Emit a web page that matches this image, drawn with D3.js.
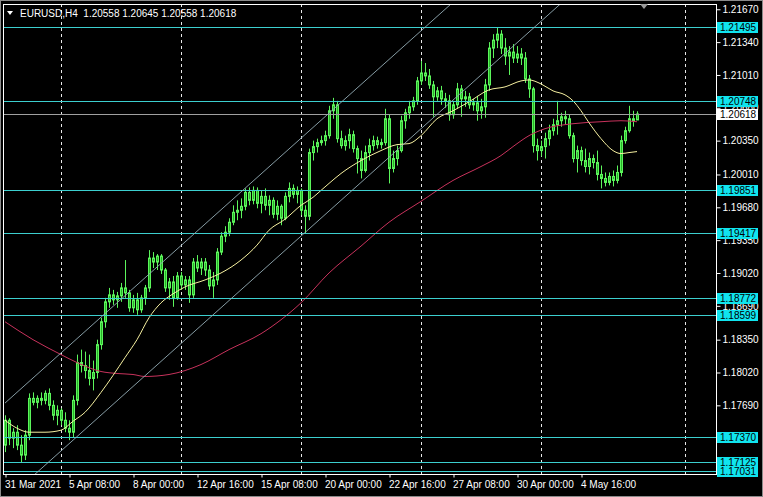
<!DOCTYPE html>
<html><head><meta charset="utf-8">
<script src="https://cdn.jsdelivr.net/npm/d3@7"></script>
<style>html,body{margin:0;padding:0;background:#000;overflow:hidden}</style>
</head><body>
<svg id="c" width="763" height="497"></svg>
<script>
const title = "EURUSD,H4  1.20558 1.20645 1.20558 1.20618";
const dateLabels = ["31 Mar 2021","5 Apr 08:00","8 Apr 00:00","12 Apr 16:00","15 Apr 08:00","20 Apr 00:00","22 Apr 16:00","27 Apr 08:00","30 Apr 00:00","4 May 16:00"];
const dateIdx = [0,16,32,48,64,80,96,112,128,144];
const sepIdx = [14,44,74,104,134,170];
const priceTicks = [1.21670,1.21340,1.21010,1.20680,1.20350,1.20010,1.19680,1.19350,1.19020,1.18690,1.18350,1.18020,1.17690];
const levels = [1.21495,1.20748,1.19851,1.19417,1.18772,1.18599,1.17370,1.17125,1.17031];
const lastPrice = 1.20618;

const open = [1.1729,1.1754,1.1736,1.1742,1.1729,1.1719,1.1739,1.1776,1.1772,1.1776,
1.1774,1.1781,1.1769,1.1759,1.1764,1.1754,1.1746,1.1742,1.1774,1.1812,
1.1809,1.1804,1.1796,1.1802,1.1830,1.1853,1.1873,1.1880,1.1875,1.1879,
1.1887,1.1882,1.1867,1.1875,1.1865,1.1877,1.1887,1.1917,1.1913,1.1919,
1.1905,1.1887,1.1893,1.1877,1.1899,1.1890,1.1895,1.1880,1.1913,1.1907,
1.1913,1.1905,1.1889,1.1895,1.1923,1.1939,1.1943,1.1953,1.1963,1.1965,
1.1969,1.1983,1.1975,1.1985,1.1972,1.1979,1.1970,1.1975,1.1961,1.1969,
1.1957,1.1979,1.1987,1.1981,1.1985,1.1965,1.1959,1.2023,1.2029,1.2033,
1.2035,1.2040,1.2065,1.2071,1.2037,1.2030,1.2035,1.2041,1.2027,1.2017,
1.2005,1.2023,1.2030,1.2035,1.2031,1.2033,1.2057,1.2007,1.2017,1.2025,
1.2055,1.2063,1.2069,1.2075,1.2095,1.2103,1.2100,1.2091,1.2079,1.2085,
1.2077,1.2075,1.2061,1.2071,1.2087,1.2077,1.2079,1.2071,1.2073,1.2065,
1.2069,1.2091,1.2128,1.2136,1.2142,1.2128,1.2120,1.2124,1.2118,1.2122,
1.2118,1.2097,1.2087,1.2030,1.2025,1.2029,1.2037,1.2045,1.2051,1.2055,
1.2059,1.2057,1.2040,1.2017,1.2025,1.2015,1.2009,1.2017,1.2013,1.2001,
1.1997,1.1993,1.1999,1.1995,1.2003,1.2035,1.2045,1.2057,1.20558];
const high = [1.1759,1.1756,1.1746,1.1749,1.1739,1.1744,1.1781,1.1782,1.1779,1.1782,
1.1784,1.1786,1.1774,1.1769,1.1766,1.1762,1.1754,1.1779,1.1820,1.1825,
1.1823,1.1820,1.1814,1.1835,1.1857,1.1877,1.1887,1.1885,1.1883,1.1892,
1.1915,1.1885,1.1880,1.1882,1.1880,1.1890,1.1925,1.1923,1.1921,1.1921,
1.1907,1.1897,1.1899,1.1903,1.1903,1.1899,1.1899,1.1917,1.1920,1.1917,
1.1917,1.1910,1.1903,1.1927,1.1943,1.1949,1.1957,1.1970,1.1975,1.1977,
1.1987,1.1988,1.1989,1.1988,1.1985,1.1987,1.1980,1.1978,1.1975,1.1971,
1.1983,1.1993,1.1991,1.1989,1.1987,1.1970,1.2027,1.2035,1.2037,1.2040,
1.2045,1.2070,1.2078,1.2075,1.2045,1.2040,1.2047,1.2045,1.2030,1.2025,
1.2030,1.2037,1.2040,1.2039,1.2037,1.2067,1.2061,1.2025,1.2030,1.2060,
1.2067,1.2075,1.2079,1.2099,1.2115,1.2113,1.2107,1.2095,1.2089,1.2090,
1.2083,1.2081,1.2075,1.2093,1.2091,1.2085,1.2083,1.2077,1.2080,1.2077,
1.2097,1.2134,1.2142,1.2149,1.2146,1.2138,1.2130,1.2132,1.2130,1.2128,
1.2124,1.2101,1.2089,1.2037,1.2035,1.2043,1.2051,1.2057,1.2075,1.2063,
1.2065,1.2061,1.2043,1.2030,1.2029,1.2027,1.2023,1.2021,1.2025,1.2010,
1.2003,1.2003,1.2005,1.2010,1.2040,1.2049,1.2070,1.2065,1.20645];
const low = [1.1722,1.1729,1.1726,1.1724,1.1712,1.1714,1.1734,1.1769,1.1766,1.1769,
1.1770,1.1764,1.1754,1.1749,1.1749,1.1742,1.1734,1.1737,1.1769,1.1802,
1.1796,1.1789,1.1784,1.1796,1.1825,1.1847,1.1867,1.1870,1.1867,1.1873,
1.1877,1.1863,1.1862,1.1860,1.1862,1.1870,1.1883,1.1907,1.1905,1.1901,
1.1883,1.1875,1.1868,1.1875,1.1885,1.1885,1.1872,1.1877,1.1903,1.1900,
1.1899,1.1885,1.1877,1.1890,1.1920,1.1933,1.1939,1.1950,1.1955,1.1957,
1.1965,1.1970,1.1971,1.1967,1.1962,1.1965,1.1960,1.1957,1.1955,1.1950,
1.1955,1.1973,1.1977,1.1972,1.1960,1.1942,1.1955,1.2015,1.2023,1.2030,
1.2030,1.2037,1.2057,1.2033,1.2027,1.2025,1.2027,1.2023,1.2002,1.1997,
1.2003,1.2015,1.2025,1.2027,1.2027,1.2030,1.1992,1.2003,1.2010,1.2023,
1.2047,1.2057,1.2065,1.2071,1.2091,1.2095,1.2087,1.2059,1.2075,1.2071,
1.2068,1.2055,1.2057,1.2067,1.2059,1.2069,1.2067,1.2065,1.2055,1.2057,
1.2058,1.2085,1.2118,1.2128,1.2122,1.2111,1.2101,1.2113,1.2113,1.2111,
1.2093,1.2078,1.2023,1.2015,1.2019,1.2017,1.2030,1.2040,1.2041,1.2049,
1.2051,1.2037,1.2013,1.2003,1.2010,1.2003,1.2001,1.2007,1.1995,1.1987,
1.1989,1.1990,1.1989,1.1992,1.1999,1.2032,1.2043,1.2049,1.20558];
const close = [1.1754,1.1736,1.1742,1.1729,1.1719,1.1739,1.1776,1.1772,1.1776,1.1774,
1.1781,1.1769,1.1759,1.1764,1.1754,1.1746,1.1742,1.1774,1.1812,1.1809,
1.1804,1.1796,1.1802,1.1830,1.1853,1.1873,1.1880,1.1875,1.1879,1.1887,
1.1882,1.1867,1.1875,1.1865,1.1877,1.1887,1.1917,1.1913,1.1919,1.1905,
1.1887,1.1893,1.1877,1.1899,1.1890,1.1895,1.1880,1.1913,1.1907,1.1913,
1.1905,1.1889,1.1895,1.1923,1.1939,1.1943,1.1953,1.1963,1.1965,1.1969,
1.1983,1.1975,1.1985,1.1972,1.1979,1.1970,1.1975,1.1961,1.1969,1.1957,
1.1979,1.1987,1.1981,1.1985,1.1965,1.1959,1.2023,1.2029,1.2033,1.2035,
1.2040,1.2065,1.2071,1.2037,1.2030,1.2035,1.2041,1.2027,1.2017,1.2005,
1.2023,1.2030,1.2035,1.2031,1.2033,1.2057,1.2007,1.2017,1.2025,1.2055,
1.2063,1.2069,1.2075,1.2095,1.2103,1.2100,1.2091,1.2079,1.2085,1.2077,
1.2075,1.2061,1.2071,1.2087,1.2077,1.2079,1.2071,1.2073,1.2065,1.2069,
1.2091,1.2128,1.2136,1.2142,1.2128,1.2120,1.2124,1.2118,1.2122,1.2118,
1.2097,1.2087,1.2030,1.2025,1.2029,1.2037,1.2045,1.2051,1.2055,1.2059,
1.2057,1.2040,1.2017,1.2025,1.2015,1.2009,1.2017,1.2013,1.2001,1.1997,
1.1993,1.1999,1.1995,1.2003,1.2035,1.2045,1.2057,1.2055,1.20618];

const maFastIdx = [0,3,6,10,14,17,20,24,27,30,33,36,39,42,45,50,54,59,63,66,70,74,77,79,81,84,89,94,98,101,104,108,112,116,121,125,129,131,134,137,140,142,144,146,149,152,154,156,158];
const maFastVal = [1.1754,1.1746,1.1742,1.1742,1.1744,1.1753,1.1762,1.1782,1.1799,1.1817,1.1835,1.1857,1.1872,1.1881,1.1888,1.1895,1.1902,1.1915,1.1930,1.1945,1.1956,1.1970,1.1978,1.1985,1.1992,1.2002,1.2015,1.2025,1.2031,1.2032,1.2040,1.2057,1.2065,1.2074,1.2086,1.2089,1.2095,1.2096,1.2092,1.2085,1.2081,1.2075,1.2065,1.2053,1.2037,1.2025,1.2022,1.2023,1.2024];
const maSlowIdx = [0,7,14,18,24,28,32,35,41,49,56,64,69,74,81,89,96,104,112,119,124,127,131,135,142,149,154,158];
const maSlowVal = [1.1853,1.1835,1.1820,1.1812,1.1803,1.1801,1.1800,1.1798,1.1800,1.1810,1.1825,1.1841,1.1855,1.1872,1.1902,1.1929,1.1953,1.1974,1.1995,1.2009,1.2020,1.2029,1.2040,1.2047,1.2052,1.2054,1.2055,1.2054];

// trend channel: two anchor points each [bar index, price]
const channelUpper = [[0,1.17713],[140,1.22748]];
const channelLower = [[0,1.16728],[140,1.21765]];

const svg = d3.select('#c');
const W = 763, H = 497;
const PL = 3, PR = 716, PT = 4, PB = 474;
const font = "'Liberation Sans', Arial, sans-serif";

svg.append('rect').attr('width',W).attr('height',H).attr('fill','#000');

const x = d3.scaleLinear().domain([0,170]).range([5,685]);
const y = d3.scaleLinear().domain([1.17000,1.21713]).range([474,5]);

svg.append('clipPath').attr('id','plot').append('rect')
  .attr('x',PL).attr('y',PT).attr('width',PR-PL).attr('height',PB-PT);
const g = svg.append('g').attr('clip-path','url(#plot)');

// weekly separators (dashed)
g.selectAll('line.sep').data(sepIdx).join('line')
  .attr('x1',d=>Math.round(x(d))+0.5).attr('x2',d=>Math.round(x(d))+0.5)
  .attr('y1',PT).attr('y2',PB)
  .attr('stroke','#e8e8e8').attr('stroke-width',1).attr('stroke-dasharray','3,3');

// candles
const n = close.length;
const idx = d3.range(n);
const bodyCol = '#27b427', edgeCol = '#5cf55c';
g.selectAll('line.wick').data(idx).join('line')
  .attr('x1',i=>Math.round(x(i))+0.5).attr('x2',i=>Math.round(x(i))+0.5)
  .attr('y1',i=>y(high[i])).attr('y2',i=>y(low[i]))
  .attr('stroke',edgeCol).attr('stroke-width',1);
g.selectAll('rect.body').data(idx).join('rect')
  .attr('x',i=>Math.round(x(i))-0.5)
  .attr('width',2)
  .attr('y',i=>y(Math.max(open[i],close[i])))
  .attr('height',i=>Math.max(0.5, Math.abs(y(open[i])-y(close[i]))))
  .attr('fill',bodyCol).attr('stroke',edgeCol).attr('stroke-width',1);

// moving averages
const lineGen = d3.line().x(d=>x(d[0])).y(d=>y(d[1])).curve(d3.curveMonotoneX);
g.append('path').datum(maSlowIdx.map((d,k)=>[d,maSlowVal[k]]))
  .attr('d',lineGen).attr('fill','none').attr('stroke','#c8325c').attr('stroke-width',1);
g.append('path').datum(maFastIdx.map((d,k)=>[d,maFastVal[k]]))
  .attr('d',lineGen).attr('fill','none').attr('stroke','#f6f0a0').attr('stroke-width',1);

// horizontal levels
g.selectAll('line.lvl').data(levels).join('line')
  .attr('x1',PL).attr('x2',PR)
  .attr('y1',d=>Math.round(y(d))+0.5).attr('y2',d=>Math.round(y(d))+0.5)
  .attr('stroke','#3ccfcf').attr('stroke-width',1);

// price line
g.append('line').attr('x1',PL).attr('x2',PR)
  .attr('y1',Math.round(y(lastPrice))+0.5).attr('y2',Math.round(y(lastPrice))+0.5)
  .attr('stroke','#a0a0a0').attr('stroke-width',1);

// channel lines
const chGen = d3.line().x(d=>x(d[0])).y(d=>y(d[1]));
[channelUpper, channelLower].forEach(c=>{
  g.append('path').datum(c).attr('d',chGen).attr('fill','none')
   .attr('stroke','#94adb5').attr('stroke-width',0.9);
});

// frame
svg.append('rect').attr('x',PL+0.5).attr('y',PT+0.5).attr('width',PR-PL).attr('height',PB-PT)
  .attr('fill','none').attr('stroke','#ffffff').attr('stroke-width',1);

// price axis
const yAxis = d3.axisRight(y).tickValues(priceTicks).tickFormat(d3.format('.5f')).tickSize(4).tickPadding(2);
const ya = svg.append('g').attr('transform',`translate(${PR+0.5},0)`).call(yAxis);
ya.select('.domain').remove();
ya.selectAll('line').attr('stroke','#fff');
ya.selectAll('text').attr('fill','#fff').attr('font-family',font).attr('font-size',10);

// level labels
const lab = svg.append('g');
levels.forEach(v=>{
  const yy = Math.round(y(v));
  lab.append('rect').attr('x',PR+1).attr('y',yy-5).attr('width',41).attr('height',11).attr('fill','#10e4ee');
  lab.append('text').attr('x',PR+4).attr('y',yy+4).text(d3.format('.5f')(v))
    .attr('fill','#000').attr('font-family',font).attr('font-size',10);
});
{
  const yy = Math.round(y(lastPrice));
  lab.append('rect').attr('x',PR+1).attr('y',yy-5).attr('width',41).attr('height',11).attr('fill','#ffffff');
  lab.append('text').attr('x',PR+4).attr('y',yy+4).text(d3.format('.5f')(lastPrice))
    .attr('fill','#000').attr('font-family',font).attr('font-size',10);
}

// time axis
const xAxis = d3.axisBottom(x).tickValues(dateIdx).tickFormat((d,k)=>dateLabels[k]).tickSize(3).tickPadding(3);
const xa = svg.append('g').attr('transform',`translate(0.5,${PB+0.5})`).call(xAxis);
xa.select('.domain').remove();
xa.selectAll('line').attr('stroke','#fff');
xa.selectAll('text').attr('fill','#fff').attr('font-family',font).attr('font-size',10)
  .attr('text-anchor','start').attr('dx',-1);

// title
svg.append('path').attr('d','M7,11 L13,11 L10,15 Z').attr('fill','#fff');
svg.append('text').attr('x',20).attr('y',17).text(title)
  .attr('fill','#fff').attr('font-family',font).attr('font-size',10).style('white-space','pre');

// chart-shift marker
svg.append('path').attr('d','M640,4 L648,4 L644,9 Z').attr('fill','#9a9a9a');

// outer border
svg.append('rect').attr('x',0.5).attr('y',0.5).attr('width',W-1).attr('height',H-1)
  .attr('fill','none').attr('stroke','#8a8a8a');
</script>
</body></html>
